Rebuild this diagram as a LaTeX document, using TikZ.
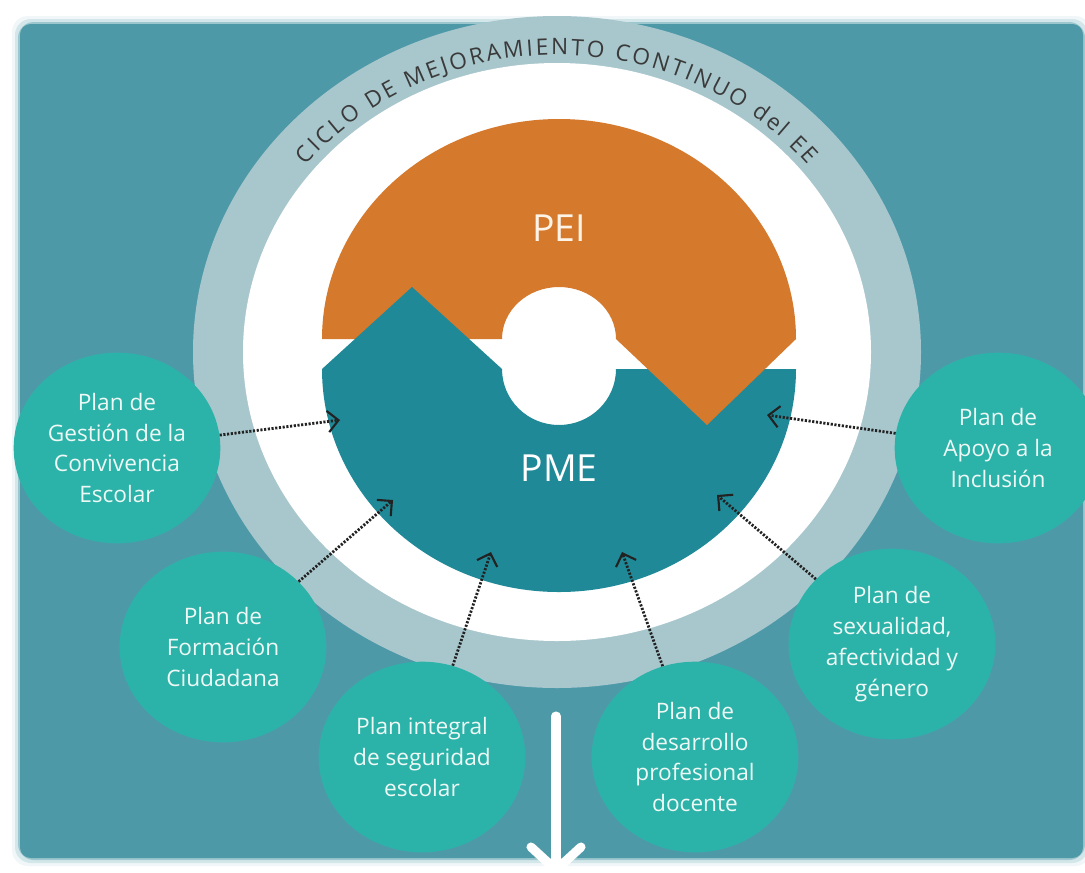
\documentclass[tikz,border=0pt]{standalone}
\usepackage{fontspec}
\setmainfont{Open Sans}
\usetikzlibrary{shapes.geometric,arrows.meta,decorations.text}
\definecolor{bgteal}{HTML}{4E99A8}
\definecolor{ringgray}{HTML}{A8C7CD}
\definecolor{peiorange}{HTML}{D5792C}
\definecolor{pmeteal}{HTML}{1F8998}
\definecolor{plangreen}{HTML}{2CB3A9}
\definecolor{labeltext}{HTML}{EEF8F5}
\definecolor{peitext}{HTML}{FDF3E7}
\definecolor{arctext}{HTML}{3A3A3A}
\definecolor{arrowdark}{HTML}{222222}
\begin{document}
\begin{tikzpicture}[x=0.75pt,y=-0.75pt,
  plan/.style={ellipse, fill=plangreen, minimum width=155pt, minimum height=143pt, inner sep=0pt},
  plantext/.style={text=labeltext, align=center, font=\fontsize{17}{23.2}\selectfont},
  dotarrow/.style={draw=arrowdark, line width=2.1pt, dash pattern=on 1.6pt off 1.2pt,
    -{Straight Barb[length=8pt,width=16pt,line width=1.6pt]}},
  bigtext/.style={font=\fontsize{28}{30}\selectfont}]
\useasboundingbox (0,0) rectangle (1085,872);
\clip (0,0) rectangle (1085,872);
\fill[white] (0,0) rectangle (1085,872);
% background panel with soft edge
\foreach \d/\o in {8/0.08,5/0.18,2/0.4}
  \fill[bgteal, opacity=\o, rounded corners=12] (20-\d,24-\d) rectangle (1083+\d,858+\d);
\fill[bgteal, rounded corners=8] (20,24) rectangle (1083,858);
% rings
\fill[ringgray] (557,352) ellipse [x radius=364, y radius=336];
\fill[white] (557,352) ellipse [x radius=314, y radius=289];
% PEI half
\fill[peiorange] (322,339) -- (502,339)
  arc[start angle=180, end angle=360, x radius=57, y radius=52]
  -- (796,339) arc[start angle=360, end angle=180, x radius=237, y radius=220] -- cycle;
% PME half
\fill[pmeteal] (322,369) -- (502,369)
  arc[start angle=180, end angle=0, x radius=57, y radius=56]
  -- (796,369) arc[start angle=0, end angle=180, x radius=237, y radius=223] -- cycle;
\fill[pmeteal] (322,369) -- (412,287) -- (502,369) -- cycle;
\fill[peiorange] (616,339) -- (707,425) -- (796,339) -- cycle;
\node[bigtext, text=peitext] (pei) at (559,228) {PEI};
\node[bigtext, text=white] (pme) at (559,468) {PME};
% arc text
\path[decorate, decoration={text along path, text align=fit to path,
  text={|\color{arctext}\fontsize{17}{17}\selectfont|CICLO DE MEJORAMIENTO CONTINUO del EE}}]
  (557,352) ++(219:323 and 297) arc[start angle=219, end angle=321, x radius=323, y radius=297];
% plan circles
\node[plan] (gest) at (117,448) {};
\node[plan] (form) at (223,647) {};
\node[plan] (segu) at (422,757) {};
\node[plan] (desa) at (695,757) {};
\node[plan] (sexu) at (892,644) {};
\node[plan] (apoy) at (998,448) {};
\node[plantext] at (gest) {Plan de\\Gestión de la\\Convivencia\\Escolar};
\node[plantext] at (form) {Plan de\\Formación\\Ciudadana};
\node[plantext] at (segu) {Plan integral\\de seguridad\\escolar};
\node[plantext] at (desa) {Plan de\\desarrollo\\profesional\\docente};
\node[plantext] at (sexu) {Plan de\\sexualidad,\\afectividad y\\género};
\node[plantext] at (apoy) {Plan de\\Apoyo a la\\Inclusión};
% arrow tips on PME
\coordinate (t1) at (340,420);
\coordinate (t2) at (393,500);
\coordinate (t3) at (491,552);
\coordinate (t4) at (622,552);
\coordinate (t5) at (717,495);
\coordinate (t6) at (767,415);
\draw[dotarrow] (gest) -- (t1);
\draw[dotarrow] (form) -- (t2);
\draw[dotarrow] (segu) -- (t3);
\draw[dotarrow] (desa) -- (t4);
\draw[dotarrow] (sexu) -- (t5);
\draw[dotarrow] (apoy) -- (t6);
% big downward arrow
\coordinate (bt) at (556,716);
\coordinate (bb) at (556,870);
\draw[white, line width=6.8pt, line cap=round] (bt) -- (bb);
\draw[white, line width=6.8pt, line cap=round, line join=round] (bb) ++(-25,-23) -- (bb) -- ++(25,-23);
\end{tikzpicture}
\end{document}
